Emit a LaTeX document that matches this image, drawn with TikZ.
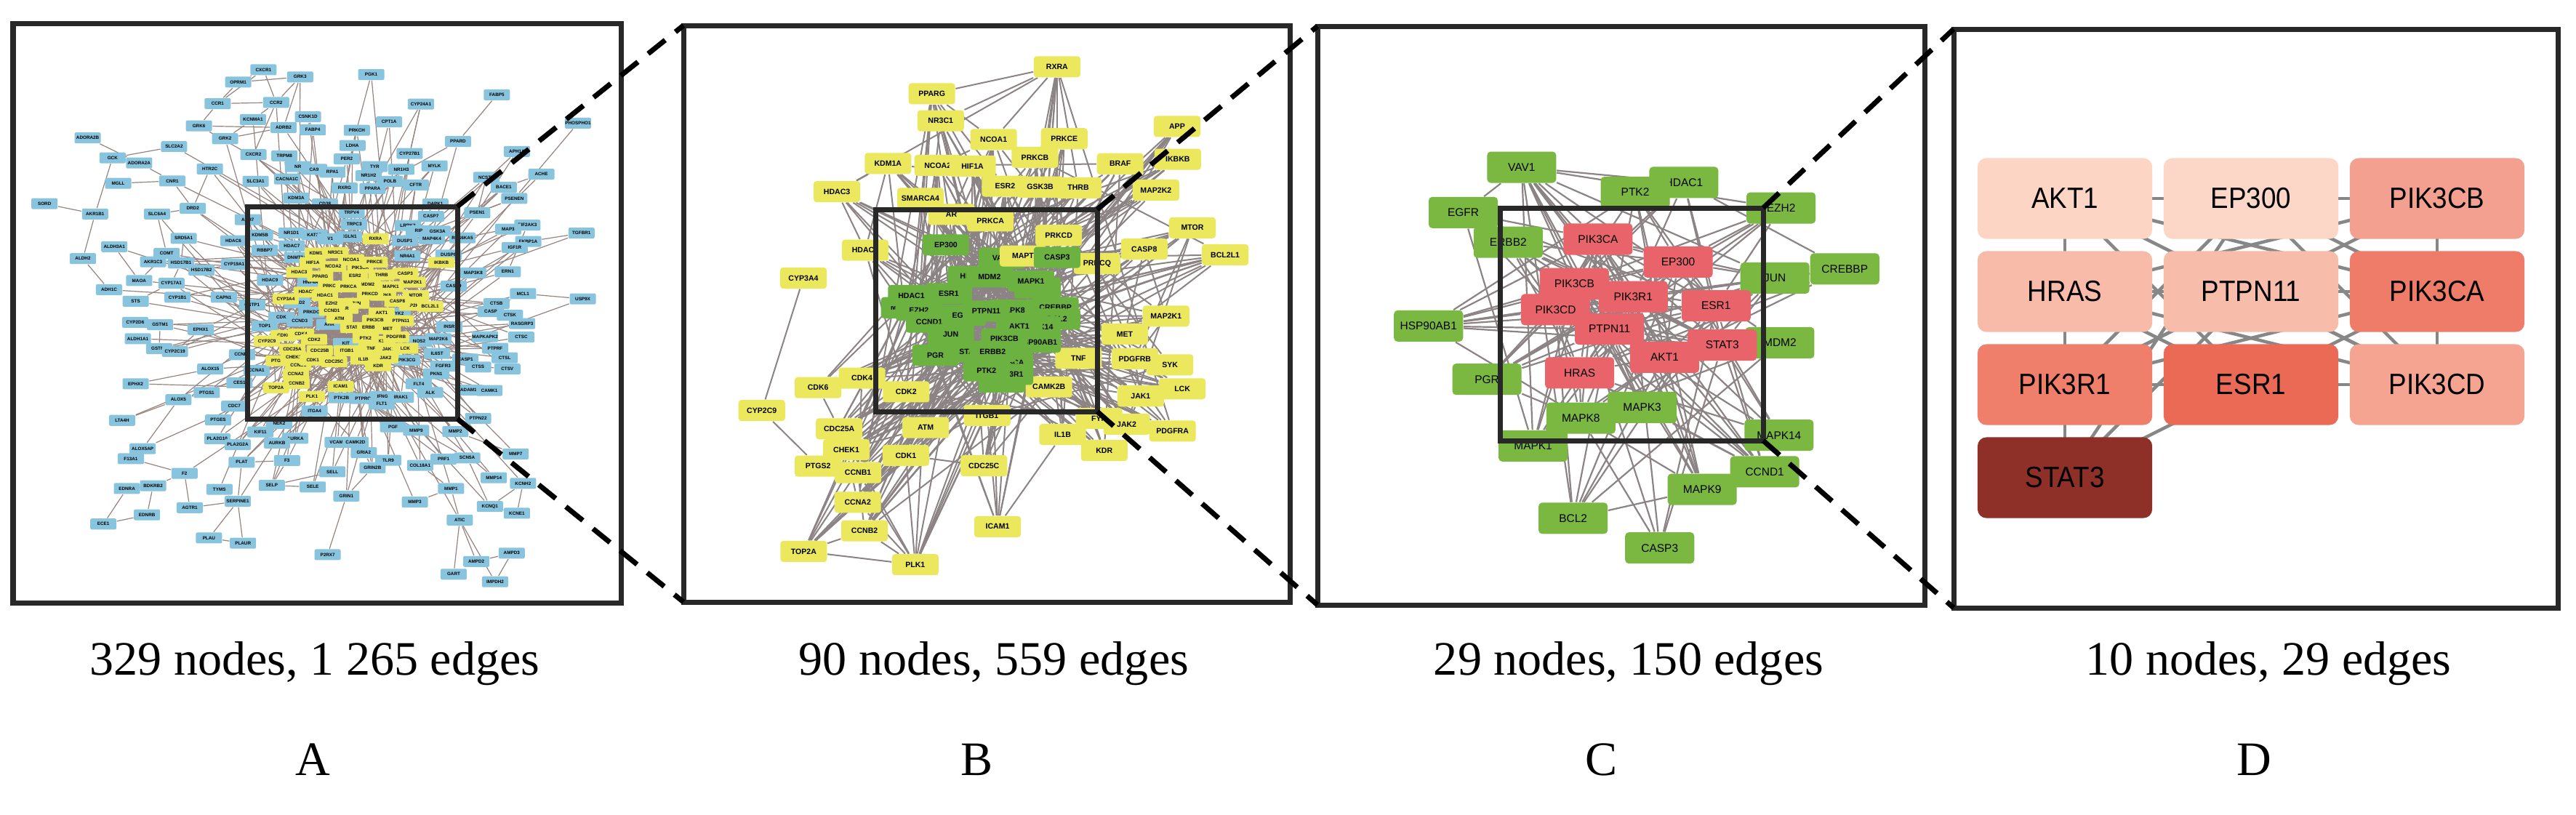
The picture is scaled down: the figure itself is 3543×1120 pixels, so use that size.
\documentclass[tikz,border=0pt]{standalone}
\usepackage{fontspec}
\setmainfont{Liberation Serif}
\newfontfamily\nodefont{Liberation Sans}
\newfontfamily\dfont[FakeStretch=0.91]{Liberation Sans}
\pgfdeclarelayer{bg}
\pgfdeclarelayer{ylay}
\pgfdeclarelayer{fg}
\pgfsetlayers{bg,main,ylay,fg}
\definecolor{ablue}{RGB}{137,196,222}
\definecolor{yel}{RGB}{236,232,94}
\definecolor{bgreen}{RGB}{108,178,64}
\definecolor{cgreen}{RGB}{122,184,66}
\definecolor{cred}{RGB}{232,100,106}
\definecolor{edgec}{RGB}{140,132,132}
\definecolor{aedgec}{RGB}{150,132,128}
\definecolor{dedgec}{RGB}{135,135,135}
\definecolor{framec}{RGB}{40,40,40}
\definecolor{dAKT}{RGB}{252,213,196}
\definecolor{dEP}{RGB}{252,214,198}
\definecolor{dCB}{RGB}{244,160,144}
\definecolor{dHR}{RGB}{248,187,170}
\definecolor{dPT}{RGB}{248,188,170}
\definecolor{dCA}{RGB}{238,124,104}
\definecolor{dRI}{RGB}{239,126,106}
\definecolor{dES}{RGB}{234,106,86}
\definecolor{dCD}{RGB}{245,164,146}
\definecolor{dST}{RGB}{142,47,40}
\begin{document}
\begin{tikzpicture}[x=0.01cm,y=-0.01cm,
 every node/.style={inner sep=0pt, text=black},
 anode/.style={rectangle, rounded corners=0.02cm, fill=ablue, minimum width=0.36cm, minimum height=0.15cm, font=\nodefont\bfseries\fontsize{1.8pt}{2pt}\selectfont},
 aynode/.style={anode, fill=yel},
 bnode/.style={rectangle, rounded corners=0.04cm, fill=yel, minimum width=0.64cm, minimum height=0.29cm, font=\nodefont\bfseries\fontsize{3pt}{3.5pt}\selectfont},
 bgnode/.style={bnode, fill=bgreen},
 cnode/.style={rectangle, rounded corners=0.05cm, fill=cgreen, minimum width=0.95cm, minimum height=0.43cm, font=\nodefont\fontsize{4.4pt}{5pt}\selectfont},
 crnode/.style={cnode, fill=cred},
 dnode/.style={rectangle, rounded corners=0.12cm, minimum width=2.40cm, minimum height=1.11cm, font=\dfont\fontsize{11.5pt}{13pt}\selectfont},
 aedge/.style={draw=aedgec, line width=0.012cm},
 bedge/.style={draw=edgec, line width=0.02cm},
 cedge/.style={draw=edgec, line width=0.022cm},
 dedge/.style={draw=dedgec, line width=0.045cm},
 panel/.style={draw=framec, line width=0.07cm},
 zoomline/.style={draw=black, line width=0.07cm, dash pattern=on 0.30cm off 0.18cm},
 lab/.style={font=\fontsize{18.8pt}{22pt}\selectfont, anchor=base}
]
\useasboundingbox (0,0) rectangle (3543,1120);
\begin{pgfonlayer}{bg}
\fill[white] (0,0) rectangle (3543,1120);
\end{pgfonlayer}

%% ---------------- Panel A ----------------
\begin{scope}[x=0.005995cm, y=-0.005485cm]
\begin{pgfonlayer}{ylay}
\foreach \x/\y/\t [count=\i] in {826/672/PIK3CA,817/761/JUN,878/741/MAPK8,945/766/MAP2K2,792/774/AR,778/799/ATM,876/857/PIK3R1,639/905/PTGS2,684/916/CCNB1,650/842/CDK6,946/708/MAP2K1,851/875/TNF,1012/659/IKBKB,728/635/KDM1A,717/659/HIF1A,734/693/PPARG,861/599/RXRA,769/634/NR3C1,805/652/NCOA1,859/658/PRKCE,764/669/NCOA2,686/683/HDAC3,929/686/CASP3,814/692/ESR2,875/690/THRB,843/713/MDM2,759/718/PRKCB,799/720/PRKCA,896/719/MAPK1,703/733/HDAC2,848/738/PRKCD,953/742/MTOR,655/750/CYP3A4,745/742/HDAC1,911/756/CASP8,986/769/BCL2L1,760/762/EZH2,761/779/CCND1,875/785/AKT1,860/804/PIK3CB,919/805/PTPN11,810/822/STAT3,848/822/ERBB2,889/825/MET,690/838/CDK4,720/852/CDK2,612/856/CYP2C9,838/848/PTK2,908/846/PDGFRB,670/876/CDC25A,733/880/CDC25B,795/880/ITGB1,890/876/JAK1,929/874/LCK,673/896/CHEK1,717/904/CDK1,833/901/IL1B,884/898/JAK2,766/908/CDC25C,867/918/KDR,678/939/CCNA2,680/962/CCNB2,781/970/ICAM1,633/973/TOP2A,715/995/PLK1}
 {\node[aynode, alias=a\t] (AY\i) at (\x,\y) {\t};}
\end{pgfonlayer}
\foreach \x/\y/\t [count=\i] in {604/175/CXCR1,546/206/OPRM1,688/193/GRK3,851/187/PGK1,1139/238/FABP5,499/260/CCR1,633/257/CCR2,965/261/CYP24A1,580/300/KCNMA1,706/293/CSNK1D,456/316/GRK6,650/320/ADRB2,717/326/FABP4,818/327/PRKCH,892/306/CPT1A,1325/309/PHOSPHO1,201/346/ADORA2B,516/348/GRK2,1050/355/PPARD,399/368/SLC2A2,808/365/LDHA,581/388/CXCR2,652/391/TRPM8,939/385/CYP27B1,1185/380/APH1A,258/396/GCK,319/409/ADORA2A,795/399/PER2,859/418/TYR,920/425/NR1H3,996/416/MYLK,481/424/HTR2C,683/418/NR,720/425/CA9,762/432/RPA1,845/441/NR1H2,1241/437/ACHE,1115/445/NCSTN,395/454/CNR1,271/460/MGLL,586/455/SLC3A1,658/449/CACNA1C,894/455/POLB,953/464/CFTR,1155/470/BACE1,790/472/RXRG,854/473/PPARA,102/511/SORD,1179/498/PSENEN,679/497/KDM3A,745/512/CD38,218/537/AKR1B1,360/537/SLC6A4,442/523/DRD2,998/512/DAPK1,806/534/TRPV4,1094/534/PSEN1,988/543/CASP7,568/551/ADH7,812/563/TRPC3,1209/565/EIF2AK3,1333/585/TGFBR1,668/585/NR1D1,721/589/KAT2B,596/590/KDM5B,800/594/EGLN1,935/566/LRRK2,960/579/RIP,1003/580/GSK3A,1165/575/MAP3,1060/597/RPS6KA5,421/598/SRD5A1,535/604/HDAC6,1211/606/FKBP1A,262/619/ALDH3A1,757/599/V1,928/604/DUSP1,990/599/MAP4K4,1180/621/IGF1R,607/628/RBBP7,669/617/HDAC7,382/636/COMT,934/642/NR4A1,1028/640/DUSP6,190/649/ALDH2,351/657/AKR1C3,415/660/HSD17B1,537/663/CYP19A1,681/646/DNMT3A,462/678/HSD17B2,1085/685/MAP3K8,1164/682/ERN1,319/704/MAOA,393/711/CYP17A1,619/703/HDAC9,712/708/HNF4A,1040/718/CASP9,250/727/ADH1C,1199/737/MCL1,513/746/CAPN1,407/746/CYP1B1,1336/750/USP9X,311/756/STS,578/765/GSTP1,681/760/CCND2,714/784/PRKDC,1138/762/CTSB,1125/782/CASP,310/809/CYP2D6,367/815/GSTM1,460/827/EPHX1,1169/791/CTSK,1197/812/RASGRP3,755/814/AHR,607/818/TOP1,645/796/CDK,687/806/CCND3,1030/820/INSR,316/850/ALDH1A1,793/862/KIT,961/857/NOS2,1005/850/MAP2K6,1112/845/MAPKAPK2,1195/846/CTSC,365/875/GSTM2,401/882/CYP2C19,1002/887/IL6ST,1135/874/PTPRF,555/890/CCNE1,588/930/CCNA1,933/904/PIK3CG,1067/901/CASP1,1157/898/CTSL,482/926/ALOX15,1016/919/FGFR3,1096/921/CTSS,1163/926/CTSV,1000/938/PKN1,311/963/EPHX2,549/961/CES1,960/963/FLT4,474/985/PTGS1,1077/979/ADAM10,1122/980/CAMK1,986/985/ALK,409/1003/ALOX5,783/998/PTK2B,877/995/IFNG,919/997/IRAK1,832/1000/PTPRC,875/1014/FLT1,537/1019/CDC7,721/1031/ITGA4,280/1055/LTA4H,500/1054/PTGES,1096/1050/PTPN22,640/1063/NEK2,901/1071/PGF,954/1080/MMP9,1044/1083/MMP2,597/1084/KIF11,498/1101/PLA2G10,677/1100/AURKA,635/1112/AURKB,545/1116/PLA2G2A,774/1110/VCAM1,815/1110/CAMK2D,327/1126/ALOX5AP,1182/1139/MMP7,300/1151/F13A1,834/1136/GRIA2,554/1160/PLAT,658/1156/F3,890/1155/TLR9,1017/1152/PRF1,1071/1149/SCN5A,963/1168/COL18A1,423/1188/F2,762/1184/SELL,854/1174/GRIN2B,1132/1199/MMP14,1199/1213/KCNH2,291/1226/EDNRA,351/1219/BDKRB2,623/1218/SELP,717/1222/SELE,503/1228/TYMS,1034/1226/MMP1,794/1245/GRIN1,545/1258/SERPINE1,951/1260/MMP3,435/1274/AGTR1,1123/1271/KCNQ1,1185/1288/KCNE1,337/1292/EDNRB,237/1315/ECE1,1054/1305/ATIC,479/1350/PLAU,557/1363/PLAUR,1173/1388/AMPD3,751/1392/P2RX7,1092/1409/AMPD2,1040/1441/GART,1135/1460/IMPDH2}
{
  \node[anode, alias=a\t] (AB\i) at (\x,\y) {\t};
  \pgfmathsetmacro\dd{veclen(\x-800,\y-780)}
  \pgfmathtruncatemacro\ja{mod(\i*7,65)+1}
  \pgfmathtruncatemacro\jb{mod(\i*13+5,65)+1}
  \pgfmathtruncatemacro\jc{mod(\i*19+11,65)+1}
  \begin{pgfonlayer}{bg}
  \ifdim\dd pt<600pt \draw[aedge] (AB\i) -- (AY\ja);\fi
  \ifdim\dd pt<480pt \draw[aedge] (AB\i) -- (AY\jb);\fi
  \ifdim\dd pt<300pt \draw[aedge] (AB\i) -- (AY\jc);\fi
  \end{pgfonlayer}
}
\node[anode] (aTYK2) at (912,786) {TYK2};
\end{scope}
\begin{pgfonlayer}{bg}
\foreach \i in {1,...,64}{\pgfmathtruncatemacro\js{\i+1}\foreach \j in {\js,...,65}{\pgfmathtruncatemacro\h{mod(\i*17+\j*29+mod(\i*\j,100)*5,100)}\ifnum\h<12 \draw[aedge] (AY\i) -- (AY\j);\fi}}
\foreach \u/\v in {aCXCR1/aOPRM1,aCXCR1/aCCR2,aCXCR1/aCCR1,aOPRM1/aCCR1,aOPRM1/aGRK3,aGRK3/aCCR2,aGRK3/aADRB2,aCCR1/aCCR2,aCCR2/aKCNMA1,aCCR1/aGRK6,aGRK6/aADRB2,aKCNMA1/aGRK2,aGRK2/aADRB2,aCCR2/aCXCR2,aCSNK1D/aFABP4,aPGK1/aLDHA,aFABP5/aPPARD,aCYP24A1/aCYP27B1,aPHOSPHO1/aPSENEN,aADORA2B/aADORA2A,aSLC2A2/aGCK,aGCK/aAKR1B1,aADORA2A/aCNR1,aMGLL/aCNR1,aCNR1/aDRD2,aHTR2C/aDRD2,aSORD/aAKR1B1,aAKR1B1/aALDH2,aALDH3A1/aMAOA,aALDH2/aADH1C,aMAOA/aCOMT,aCOMT/aSLC6A4,aSLC6A4/aDRD2,aSRD5A1/aHSD17B1,aCYP19A1/aHSD17B2,aCYP17A1/aHSD17B1,aSTS/aCYP17A1,aCYP2D6/aGSTM1,aGSTM1/aGSTM2,aALDH1A1/aCYP2C19,aEPHX1/aCYP2C19,aEPHX2/aALOX15,aALOX5/aPTGS1,aLTA4H/aALOX5,aALOX5AP/aALOX5,aF13A1/aF2,aF2/aBDKRB2,aF2/aAGTR1,aEDNRA/aECE1,aECE1/aEDNRB,aEDNRB/aBDKRB2,aEDNRA/aBDKRB2,aAGTR1/aSERPINE1,aTYMS/aSERPINE1,aSERPINE1/aPLAU,aSERPINE1/aPLAUR,aPLAU/aPLAUR,aPLAT/aSERPINE1,aPLAT/aF3,aF3/aSELP,aSELP/aSELE,aSELL/aSELP,aP2RX7/aGRIN1,aGRIN1/aGRIN2B,aGRIN2B/aGRIA2,aMMP3/aMMP1,aMMP1/aCOL18A1,aMMP1/aATIC,aATIC/aAMPD2,aATIC/aGART,aATIC/aIMPDH2,aAMPD2/aAMPD3,aAMPD3/aIMPDH2,aKCNQ1/aKCNE1,aKCNH2/aKCNE1,aKCNH2/aKCNQ1,aSCN5A/aKCNQ1,aMMP14/aMMP2,aMMP7/aMMP2,aTGFBR1/aFKBP1A,aUSP9X/aMCL1,aEIF2AK3/aERN1,aPSEN1/aPSENEN,aBACE1/aPSEN1,aACHE/aBACE1,aAPH1A/aPSEN1,aNCSTN/aPSEN1,aPPARD/aPPARA,aMYLK/aCFTR,aCPT1A/aPPARA,aCYP24A1/aPPARA,aTYK2/aJAK1,aTYK2/aJAK2}
 {\draw[aedge] (\u) -- (\v);}
\end{pgfonlayer}

%% ---------------- Panel B ----------------
\begin{scope}[shift={(9.30cm,-0.20cm)}, x=0.004464cm, y=-0.00523cm]
\foreach \x/\y/\t [count=\i] in {1170/137/RXRA,785/208/PPARG,812/279/NR3C1,975/328/NCOA1,1192/326/PRKCE,1102/375/PRKCB,650/391/KDM1A,803/396/NCOA2,910/398/HIF1A,1364/392/BRAF,493/465/HDAC3,1010/451/ESR2,1118/453/GSK3B,1235/455/THRB,1474/461/MAP2K2,750/483/SMARCA4,845/525/AR,965/542/PRKCA,580/619/HDAC2,1438/616/CASP8,1293/654/PRKCQ,1505/792/MAP2K1,1378/839/MET,1236/903/TNF,1517/920/SYK,1409/904/PDGFRB,570/955/CDK4,435/980/CDK6,706/991/CDK2,1145/978/CAMK2B,1555/983/LCK,1427/1002/JAK1,955/1053/ITGB1,1299/1061/FYN,1384/1076/JAK2,1525/1094/PDGFRA,500/1088/CDC25A,766/1085/ATM,1187/1103/IL1B,522/1143/CHEK1,1315/1145/KDR,705/1158/CDK1,945/1185/CDC25C,435/1186/PTGS2,558/1203/CCNB1,557/1281/CCNA2,987/1345/ICAM1,578/1356/CCNB2,391/1410/TOP2A,734/1445/PLK1,1539/294/APP,1541/380/IKBKB,1586/560/MTOR,1687/631/BCL2L1,1175/580/PRKCD}
 {\node[bnode, alias=b\t] (BY\i) at (\x,\y) {\t};}
\node[bnode] (bCYP3A4) at (390,692) {CYP3A4};
\node[bnode] (bCYP2C9) at (262,1040) {CYP2C9};
\foreach \x/\y/\t [count=\i] in {1000/640/VAV1,880/790/EGFR,1165/770/CREBBP,1170/800/BCL2,700/770/MAPK9,1110/860/HSP90AB1,1000/965/PIK3CD,905/688/HRAS,1110/718/MAPK3,1030/776/MAPK8,1110/820/MAPK14,905/885/STAT3,1025/915/PIK3CA,1025/945/PIK3R1,745/776/EZH2,828/605/EP300,962/689/MDM2,1090/700/MAPK1,722/738/HDAC1,837/733/ESR1,952/779/PTPN11,777/808/CCND1,1054/818/AKT1,843/840/JUN,1008/852/PIK3CB,796/895/PGR,972/885/ERBB2,953/936/PTK2}
 {\node[bgnode, alias=bg\t] (BG\i) at (\x,\y) {\t};}
\node[bnode] (bMAPT) at (1065,634) {MAPT};
\node[bgnode] (bgCASP3) at (1170,638) {CASP3};
\end{scope}
\begin{pgfonlayer}{bg}
\foreach \i in {1,...,27}{\pgfmathtruncatemacro\js{\i+1}\foreach \j in {\js,...,28}{\pgfmathtruncatemacro\h{mod(\i*37+\j*11+mod(\i*\j,100)*13,100)}\ifnum\h<37 \draw[bedge] (BG\i) -- (BG\j);\fi}}
\foreach \i in {1,...,28}{\foreach \j in {1,...,55}{\pgfmathtruncatemacro\h{mod(\i*31+\j*53+mod(\i*\j,100)*11,100)}\ifnum\h<22 \draw[bedge] (BG\i) -- (BY\j);\fi}}
\foreach \i in {1,...,54}{\pgfmathtruncatemacro\js{\i+1}\foreach \j in {\js,...,55}{\pgfmathtruncatemacro\h{mod(\i*19+\j*41+mod(\i*\j,100)*3,100)}\ifnum\h<4 \draw[bedge] (BY\i) -- (BY\j);\fi}}
\foreach \u/\v in {bCYP3A4/bCYP2C9,bCYP2C9/bPTGS2,bTOP2A/bCCNB2,bTOP2A/bCCNA2,bTOP2A/bPLK1,bPLK1/bCCNB2,bPLK1/bCCNA2,bPLK1/bCDK1,bPLK1/bCCNB1,bCCNA2/bCDK1,bCCNA2/bCHEK1,bCHEK1/bCDC25A,bCDC25A/bCDK6,bCDK4/bCDK6,bCDK2/bCDC25A,bCDC25C/bCDK1,bATM/bCHEK1,bICAM1/bIL1B,bICAM1/bITGB1,bRXRA/bPPARG,bRXRA/bNCOA1,bRXRA/bTHRB,bRXRA/bNR3C1,bPPARG/bNCOA1,bHDAC3/bKDM1A,bHDAC3/bHDAC2,bKDM1A/bHDAC2,bPTGS2/bCCNB1,bCCNB1/bCDK1,bgCASP3/bgAKT1,bgCASP3/bgESR1,bgCASP3/bgMAPK1,bgCASP3/bgMAPK3,bgCASP3/bgJUN,bgCASP3/bgBCL2,bgCASP3/bgMAPK8,bgCASP3/bgSTAT3,bgCASP3/bCASP8,bgCASP3/bBCL2L1,bgCASP3/bIL1B,bgCASP3/bTNF,bgCASP3/bPRKCD,bMAPT/bgMAPK1,bMAPT/bgAKT1,bMAPT/bGSK3B,bMAPT/bgMAPK3,bMAPT/bgPTK2}
 {\draw[bedge] (\u) -- (\v);}
\end{pgfonlayer}

%% ---------------- Panel C ----------------
\begin{scope}[shift={(17.80cm,-0.20cm)}, x=0.005612cm, y=-0.00523cm]
\foreach \x/\y/\t [count=\i] in {952/441/HDAC1,833/467/PTK2,555/401/VAV1,412/520/EGFR,522/598/ERBB2,1190/508/EZH2,1346/668/CREBBP,1175/692/JUN,327/818/HSP90AB1,1187/862/MDM2,470/958/PGR,583/1133/MAPK1,700/1060/MAPK8,850/1032/MAPK3,1185/1105/MAPK14,1150/1201/CCND1,997/1247/MAPK9,681/1323/BCL2,893/1401/CASP3}
 {\node[cnode] (CG\i) at (\x,\y) {\t};}
\foreach \x/\y/\t [count=\i] in {742/590/PIK3CA,938/650/EP300,684/707/PIK3CB,638/775/PIK3CD,828/741/PIK3R1,1031/765/ESR1,770/826/PTPN11,1046/868/STAT3,905/900/AKT1,697/941/HRAS}
 {\node[crnode] (CR\i) at (\x,\y) {\t};}
\end{scope}
\begin{pgfonlayer}{bg}
\foreach \i in {1,...,9}{\pgfmathtruncatemacro\js{\i+1}\foreach \j in {\js,...,10}{\pgfmathtruncatemacro\h{mod(\i*13+\j*7+\i*\j*3,10)}\ifnum\h<7 \draw[cedge] (CR\i) -- (CR\j);\fi}}
\foreach \i in {1,...,10}{\foreach \j in {1,...,19}{\pgfmathtruncatemacro\h{mod(\i*31+\j*17+\i*\j*7,100)}\ifnum\h<50 \draw[cedge] (CR\i) -- (CG\j);\fi}}
\foreach \i in {1,...,18}{\pgfmathtruncatemacro\js{\i+1}\foreach \j in {\js,...,19}{\pgfmathtruncatemacro\h{mod(\i*37+\j*11+\i*\j*13,100)}\ifnum\h<12 \draw[cedge] (CG\i) -- (CG\j);\fi}}
\end{pgfonlayer}

%% ---------------- Panel D ----------------
\node[dnode, fill=dAKT] (dAKT1) at (2840,273) {AKT1};
\node[dnode, fill=dEP] (dEP300) at (3096,273) {EP300};
\node[dnode, fill=dCB] (dPIK3CB) at (3352,273) {PIK3CB};
\node[dnode, fill=dHR] (dHRAS) at (2840,401) {HRAS};
\node[dnode, fill=dPT] (dPTPN11) at (3096,401) {PTPN11};
\node[dnode, fill=dCA] (dPIK3CA) at (3352,401) {PIK3CA};
\node[dnode, fill=dRI] (dPIK3R1) at (2840,529) {PIK3R1};
\node[dnode, fill=dES] (dESR1) at (3096,529) {ESR1};
\node[dnode, fill=dCD] (dPIK3CD) at (3352,529) {PIK3CD};
\node[dnode, fill=dST] (dSTAT3) at (2840,657) {STAT3};
\begin{pgfonlayer}{bg}
\foreach \u/\v in {dAKT1/dEP300,dEP300/dPIK3CB,dAKT1/dHRAS,dHRAS/dPIK3R1,dPIK3R1/dSTAT3,dPIK3CB/dPIK3CA,dPIK3CA/dPIK3CD,dHRAS/dPTPN11,dPTPN11/dPIK3CA,dPIK3R1/dESR1,dESR1/dPIK3CD,dAKT1/dPIK3CA,dAKT1/dESR1,dAKT1/dPIK3CD,dPIK3CB/dHRAS,dPIK3R1/dPIK3CB,dPIK3R1/dPIK3CA,dSTAT3/dESR1,dSTAT3/dPTPN11,dSTAT3/dEP300,dHRAS/dESR1,dHRAS/dPIK3CD,dHRAS/dPIK3CA,dEP300/dPIK3R1,dEP300/dPIK3CD,dEP300/dPIK3CA,dPTPN11/dPIK3R1,dPTPN11/dPIK3CD,dESR1/dPIK3CA}
 {\draw[dedge] (\u.center) -- (\v.center);}
\end{pgfonlayer}

%% ---------------- Frames, zoom boxes, zoom lines ----------------
\begin{pgfonlayer}{fg}
\draw[panel] (18,32) rectangle (854,829);
\draw[panel] (940,35) rectangle (1774,828);
\draw[panel] (1812,36) rectangle (2647,832);
\draw[panel] (2687,40) rectangle (3518,836);
\draw[panel] (340,284) rectangle (629,576);
\draw[panel] (1204,288) rectangle (1509,566);
\draw[panel] (2063,286) rectangle (2425,606);
\coordinate (aTR) at (629,284); \coordinate (aBR) at (629,576);
\coordinate (bTL) at (940,35);  \coordinate (bBL) at (940,828);
\coordinate (biTR) at (1509,288); \coordinate (biBR) at (1509,566);
\coordinate (cTL) at (1812,36); \coordinate (cBL) at (1812,832);
\coordinate (ciTR) at (2425,286); \coordinate (ciBR) at (2425,606);
\coordinate (dTL) at (2687,40); \coordinate (dBL) at (2687,836);
\draw[zoomline] (aTR) -- (bTL);
\draw[zoomline] (aBR) -- (bBL);
\draw[zoomline] (biTR) -- (cTL);
\draw[zoomline] (biBR) -- (cBL);
\draw[zoomline] (ciTR) -- (dTL);
\draw[zoomline] (ciBR) -- (dBL);
\end{pgfonlayer}

%% ---------------- Labels ----------------
\node[lab] (labA) at (433,928) {329 nodes, 1 265 edges};
\node[lab] (labB) at (1367,928) {90 nodes, 559 edges};
\node[lab] (labC) at (2240,928) {29 nodes, 150 edges};
\node[lab] (labD) at (3120,928) {10 nodes, 29 edges};
\node[lab] (letA) at (430,1066) {A};
\node[lab] (letB) at (1344,1066) {B};
\node[lab] (letC) at (2203,1066) {C};
\node[lab] (letD) at (3100,1066) {D};
\end{tikzpicture}
\end{document}
